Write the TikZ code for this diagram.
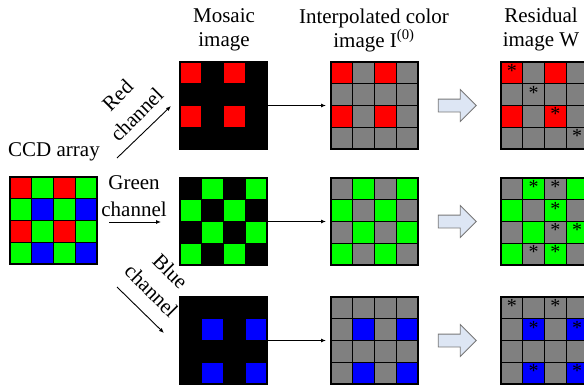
\documentclass[tikz,border=0pt]{standalone}
\usepackage{fontspec}
\setmainfont{Liberation Serif}
\usetikzlibrary{calc,shapes.arrows,arrows.meta}

\definecolor{cR}{RGB}{255,0,0}
\definecolor{cG}{RGB}{0,255,0}
\definecolor{cB}{RGB}{0,0,255}
\definecolor{cK}{RGB}{0,0,0}
\definecolor{cN}{RGB}{128,128,128}
\definecolor{arrowfill}{RGB}{221,230,244}
\definecolor{arrowline}{RGB}{120,120,120}

\newcommand{\cs}{21.75}

\tikzset{
  gridbox/.style={minimum size=87pt, inner sep=0pt, outer sep=0pt},
  cell/.style={draw=black, line width=1.4pt, minimum size=21.75pt, inner sep=0pt, outer sep=0pt},
  resmark/.style={inner sep=0pt, font=\fontsize{20}{20}\selectfont},
  title/.style={align=center, font=\fontsize{21}{24}\selectfont},
  chlabel/.style={align=center, inner sep=0pt, font=\fontsize{21}{27}\selectfont},
  chan/.style={-{Latex[length=5pt,width=4pt]}, line width=0.9pt},
  hollow/.style={shape=single arrow, draw=arrowline, fill=arrowfill, line width=0.8pt,
    minimum height=38pt, inner xsep=0pt, inner ysep=6pt, text height=0pt, text depth=0pt,
    single arrow head extend=9.5pt}
}

% grid of 4x4 cells: name, centre, colours (row by row)
\newcommand{\cellgrid}[3]{%
  \node[gridbox] (#1) at (#2) {};
  \foreach \c [count=\k from 0] in {#3} {
    \pgfmathtruncatemacro{\cc}{mod(\k,4)}
    \pgfmathtruncatemacro{\rr}{div(\k,4)}
    \node[cell, fill=\c] (#1-\k) at ($(#1.north west)+(\cc*\cs+\cs/2,\rr*\cs+\cs/2)$) {};
  }
}

\begin{document}
\begin{tikzpicture}[x=1pt, y=-1pt]
  \useasboundingbox (0,0) rectangle (584,388);
  \clip (0,0) rectangle (584,388);

  % titles
  \node[title] (tmos) at (224,30) {Mosaic\\image};
  \node[title] (tint) at (374,30) {Interpolated color\\image I\textsuperscript{(0)}};
  \node[title] (tres) at (541,29) {Residual\\image W};

  % CCD array
  \node[title] (ccdlab) at (54,152) {CCD array};
  \cellgrid{ccd}{53.5,220.5}{cR,cG,cR,cG, cG,cB,cG,cB, cR,cG,cR,cG, cG,cB,cG,cB}

  % mosaic images
  \cellgrid{mosR}{223.5,105.5}{cR,cK,cR,cK, cK,cK,cK,cK, cR,cK,cR,cK, cK,cK,cK,cK}
  \cellgrid{mosG}{223.5,221.5}{cK,cG,cK,cG, cG,cK,cG,cK, cK,cG,cK,cG, cG,cK,cG,cK}
  \cellgrid{mosB}{223.5,340.5}{cK,cK,cK,cK, cK,cB,cK,cB, cK,cK,cK,cK, cK,cB,cK,cB}

  % interpolated images
  \cellgrid{intR}{374.5,105.5}{cR,cN,cR,cN, cN,cN,cN,cN, cR,cN,cR,cN, cN,cN,cN,cN}
  \cellgrid{intG}{374.5,221.5}{cN,cG,cN,cG, cG,cN,cG,cN, cN,cG,cN,cG, cG,cN,cG,cN}
  \cellgrid{intB}{374.5,340.5}{cN,cN,cN,cN, cN,cB,cN,cB, cN,cN,cN,cN, cN,cB,cN,cB}

  % residual images
  \cellgrid{resR}{544.5,105.5}{cR,cN,cR,cN, cN,cN,cN,cN, cR,cN,cR,cN, cN,cN,cN,cN}
  \cellgrid{resG}{544.5,221.5}{cN,cG,cN,cG, cG,cN,cG,cN, cN,cG,cN,cG, cG,cN,cG,cN}
  \cellgrid{resB}{544.5,340.5}{cN,cN,cN,cN, cN,cB,cN,cB, cN,cN,cN,cN, cN,cB,cN,cB}

  \foreach \k in {0,5,10,15}
    \node[resmark] (resR-s\k) at ([yshift=2pt]resR-\k) {*};
  \foreach \k in {1,2,6,10,11,13,14}
    \node[resmark] (resG-s\k) at ([yshift=2pt]resG-\k) {*};
  \foreach \k in {0,2,5,7,13,15}
    \node[resmark] (resB-s\k) at ([yshift=2pt]resB-\k) {*};

  % channel labels and arrows
  \node[chlabel, rotate=45] (redlab) at (127,105) {Red\\channel};
  \node[chlabel] (grnlab) at (134,196) {Green\\channel};
  \node[chlabel, rotate=-45] (blulab) at (161,281) {Blue\\channel};

  \coordinate (rs) at (117,158);
  \coordinate (re) at (171,106);
  \coordinate (gs) at (109,222);
  \coordinate (ge) at (161,222);
  \coordinate (bs) at (117,287);
  \coordinate (be) at (164,333);
  \draw[chan] (rs) -- (re);
  \draw[chan] (gs) -- (ge);
  \draw[chan] (bs) -- (be);

  % mosaic -> interpolated
  \draw[chan, shorten >=5pt] (mosR.east) -- (intR.west);
  \draw[chan, shorten >=5pt] (mosG.east) -- (intG.west);
  \draw[chan, shorten >=5pt] (mosB.east) -- (intB.west);

  % hollow arrows
  \node[hollow] (haR) at (454,105.5) {};
  \node[hollow] (haG) at (454,221.5) {};
  \node[hollow] (haB) at (454,340.5) {};
\end{tikzpicture}
\end{document}
